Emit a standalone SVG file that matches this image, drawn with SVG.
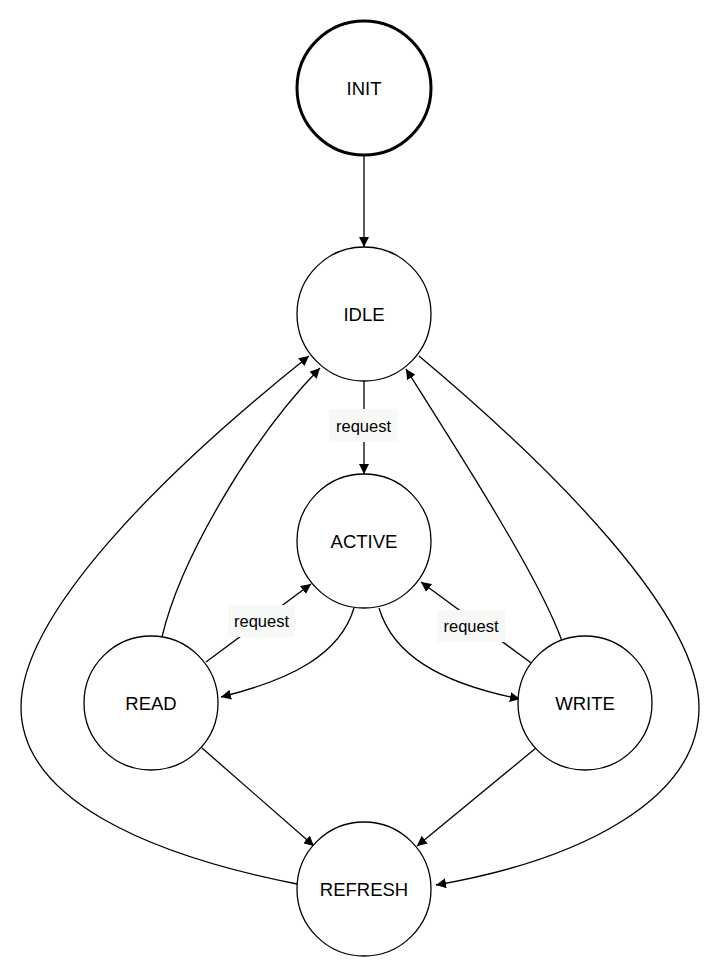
<svg xmlns="http://www.w3.org/2000/svg" width="719" height="976" viewBox="0 0 719 976">
<defs>
<marker id="arr" viewBox="0 0 10 10" refX="10" refY="5" markerWidth="10" markerHeight="10" markerUnits="userSpaceOnUse" orient="auto">
<path d="M0,0 L10,5 L0,10 z" fill="#000"/>
</marker>
<style>
.node circle{fill:#fff;stroke:#000;stroke-width:1.3}
.node.init circle{stroke-width:3}
.node text{font-family:"Liberation Sans",Arial,Helvetica,sans-serif;font-size:18.5px;text-anchor:middle;fill:#000}
.edges path{fill:none;stroke:#000;stroke-width:1.3;marker-end:url(#arr)}
.lbl rect{fill:#f7f9f7}
.lbl text{font-family:"Liberation Sans",Arial,Helvetica,sans-serif;font-size:16.5px;text-anchor:middle;fill:#000}
</style>
</defs>
<rect width="719" height="976" fill="#fff"/>
<g class="edges" id="connectors">
<path d="M364,156 L364,247"/>
<path d="M364,381 L364,474"/>
<path d="M206,662 L311,584"/>
<path d="M534,665 L421,582"/>
<path d="M354,608 C340,655 290,680 221,697"/>
<path d="M379,608 C393,655 440,683 520,699"/>
<path d="M162,637 C180,560 250,440 320,368"/>
<path d="M562,641 C540,580 470,470 406,369"/>
<path d="M297,884 C150,855 21,800 21,707 C21,615 160,475 309,356"/>
<path d="M419,356 C555,470 699,615 699,707 C699,800 580,860 436,885"/>
<path d="M202,748 L314,846"/>
<path d="M536,748 L417,846"/>
</g>
<g class="lbl" id="label-idle-active"><rect x="329" y="409" width="69" height="33"/><text x="363.5" y="431.5">request</text></g>
<g class="lbl" id="label-read-active"><rect x="228" y="605" width="67" height="32"/><text x="261.5" y="627">request</text></g>
<g class="lbl" id="label-write-active"><rect x="437" y="610" width="68" height="32"/><text x="471" y="632">request</text></g>
<g class="node init" id="INIT"><circle cx="364" cy="88" r="67"/><text x="364" y="94.5">INIT</text></g>
<g class="node" id="IDLE"><circle cx="364" cy="314" r="67"/><text x="364" y="320.5">IDLE</text></g>
<g class="node" id="ACTIVE"><circle cx="364" cy="541" r="67"/><text x="364" y="547.5">ACTIVE</text></g>
<g class="node" id="READ"><circle cx="151" cy="703" r="67"/><text x="151" y="709.5">READ</text></g>
<g class="node" id="WRITE"><circle cx="585" cy="703" r="67"/><text x="585" y="709.5">WRITE</text></g>
<g class="node" id="REFRESH"><circle cx="364" cy="889" r="67"/><text x="364" y="895.5">REFRESH</text></g>
</svg>
